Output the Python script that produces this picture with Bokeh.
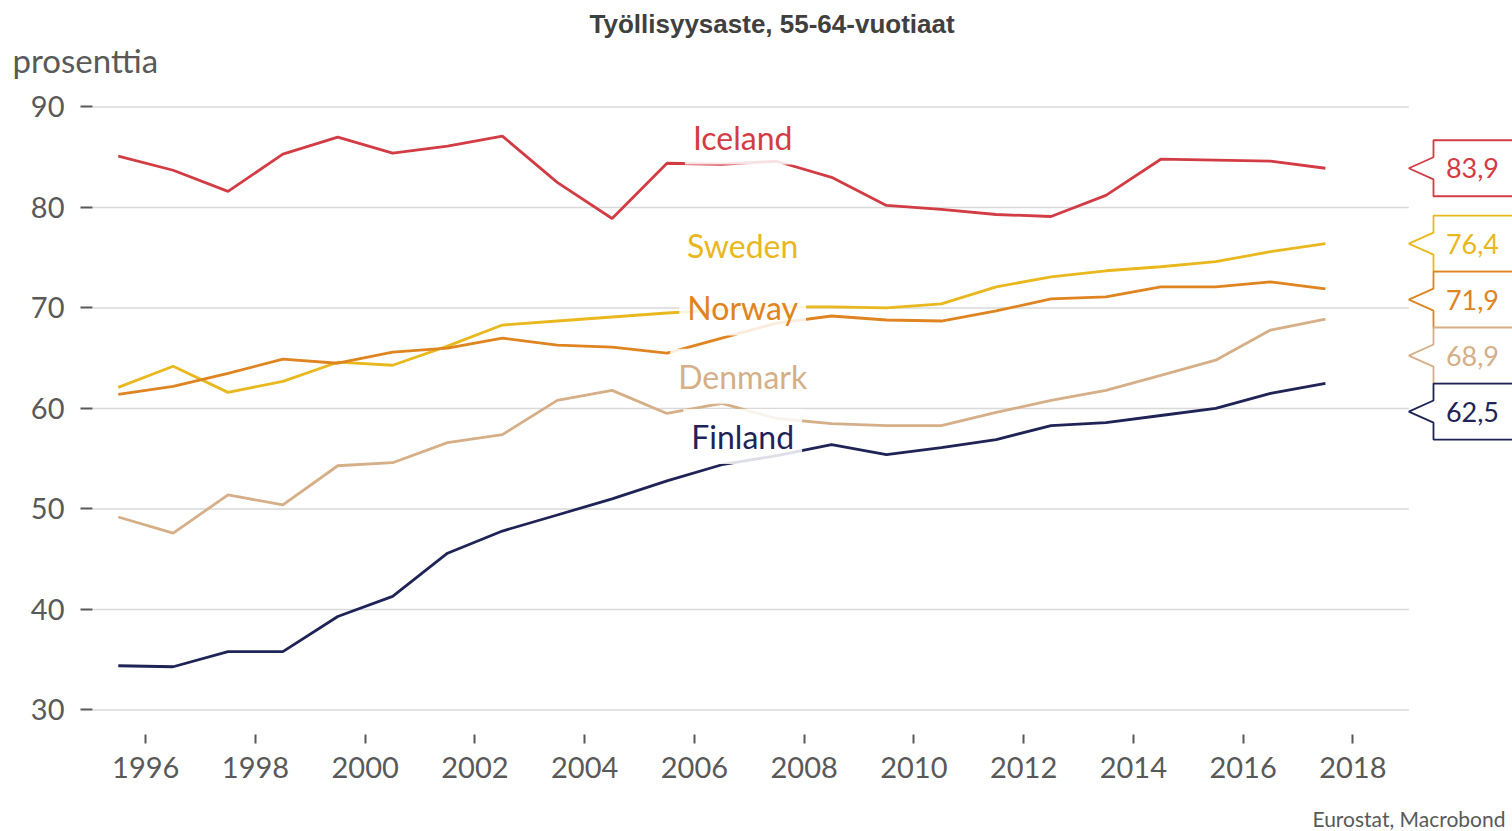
from bokeh.plotting import figure
from bokeh.layouts import column
from bokeh.models import Range1d, FixedTicker, Label, Title
from bokeh.core.properties import value
from bokeh.embed import file_html
from bokeh.resources import INLINE

# ---------------- data ----------------
years = list(range(1995, 2018))
iceland = [85.1, 83.7, 81.6, 85.3, 87.0, 85.4, 86.1, 87.1, 82.5, 78.9, 84.4, 84.3,
           84.6, 83.0, 80.2, 79.8, 79.3, 79.1, 81.2, 84.8, 84.7, 84.6, 83.9]
sweden = [62.1, 64.2, 61.6, 62.7, 64.6, 64.3, 66.2, 68.3, 68.7, 69.1, 69.5, 69.8,
          70.1, 70.1, 70.0, 70.4, 72.1, 73.1, 73.7, 74.1, 74.6, 75.6, 76.4]
norway = [61.4, 62.2, 63.5, 64.9, 64.5, 65.6, 66.0, 67.0, 66.3, 66.1, 65.5, 67.0,
          68.5, 69.2, 68.8, 68.7, 69.7, 70.9, 71.1, 72.1, 72.1, 72.6, 71.9]
denmark = [49.2, 47.6, 51.4, 50.4, 54.3, 54.6, 56.6, 57.4, 60.8, 61.8, 59.5, 60.5,
           59.0, 58.5, 58.3, 58.3, 59.6, 60.8, 61.8, 63.3, 64.8, 67.8, 68.9]
finland = [34.4, 34.3, 35.8, 35.8, 39.3, 41.3, 45.6, 47.8, 49.4, 51.0, 52.8, 54.4,
           55.3, 56.4, 55.4, 56.1, 56.9, 58.3, 58.6, 59.3, 60.0, 61.5, 62.5]

series_names = ["Iceland", "Sweden", "Norway", "Denmark", "Finland"]
series_values = [iceland, sweden, norway, denmark, finland]
series_colors = ["#d23c44", "#e8b81e", "#de8420", "#d5af88", "#1f2356"]
label_y = [87.0, 76.2, 70.0, 63.2, 57.2]   # position of the in-chart names

x_ticks = [1996, 1998, 2000, 2002, 2004, 2006, 2008, 2010, 2012, 2014, 2016, 2018]
y_ticks = [30, 40, 50, 60, 70, 80, 90]

title_text = "Työllisyysaste, 55-64-vuotiaat"
unit_text = "prosenttia"
source_text = "Eurostat, Macrobond"

GREY = "#595959"
FONT = "Lato"
W = 1512
FRAME_LEFT = 92
HEAD_H, FOOT_H = 84, 30
MAIN_H = 831 - HEAD_H - FOOT_H

X_START, GRID_END, X_END = 1995.03, 2019.02, 2020.91


def blank(h, top, bottom):
    f = figure(width=W, height=h, output_backend="svg", toolbar_location=None,
               x_range=Range1d(FRAME_LEFT, W), y_range=Range1d(0, h - top - bottom),
               x_axis_location=None, y_axis_location=None,
               min_border_left=FRAME_LEFT, min_border_right=0,
               min_border_top=top, min_border_bottom=bottom)
    f.grid.visible = False
    f.outline_line_color = None
    f.background_fill_color = "white"
    f.border_fill_color = "white"
    return f


# ---------------- header (title above a thin frame, unit below it) ----------------
head = blank(HEAD_H, 38, HEAD_H - 39)
head.add_layout(Title(text=title_text, align="left", offset=497, standoff=0,
                      vertical_align="bottom", text_font="Liberation Sans",
                      text_font_style="bold", text_font_size="26px",
                      text_color="#404040"), "above")
head.add_layout(Title(text=unit_text, align="left", offset=-80, standoff=0,
                      vertical_align="top", text_font=FONT,
                      text_font_style="normal", text_font_size="33px",
                      text_color=GREY), "below")

# ---------------- main chart ----------------
p = figure(width=W, height=MAIN_H, output_backend="svg", toolbar_location=None,
           x_range=Range1d(X_START, X_END), y_range=Range1d(27.16, 91.04),
           min_border_left=FRAME_LEFT, min_border_right=0, min_border_top=12,
           min_border_bottom=MAIN_H - 12 - 642)
p.outline_line_color = None
p.background_fill_color = "white"
p.border_fill_color = "white"
p.xgrid.visible = False
p.ygrid.visible = False

p.xaxis.ticker = FixedTicker(ticks=x_ticks)
p.yaxis.ticker = FixedTicker(ticks=y_ticks)
for ax in (p.xaxis[0], p.yaxis[0]):
    ax.axis_line_color = None
    ax.major_tick_line_color = GREY
    ax.major_tick_line_width = 2
    ax.minor_tick_line_color = None
    ax.major_label_text_font = FONT
    ax.major_label_text_font_size = "29px"
    ax.major_label_text_color = GREY
p.xaxis.major_tick_in = 4
p.xaxis.major_tick_out = 5
p.xaxis.major_label_standoff = 13
p.yaxis.major_tick_in = 0
p.yaxis.major_tick_out = 12
p.yaxis.major_label_standoff = 16

# horizontal grid lines (stop before the callout column)
p.segment(x0=[X_START] * len(y_ticks), y0=y_ticks,
          x1=[GRID_END] * len(y_ticks), y1=y_ticks,
          line_color="#d9d9d9", line_width=1.5)

# mid-year positions
xs = [y + 0.5 for y in years]
for name, vals, col in zip(series_names, series_values, series_colors):
    p.line(xs, vals, line_color=col, line_width=2.8)

# in-chart series names with white halo
for name, ly, col in zip(series_names, label_y, series_colors):
    p.add_layout(Label(x=2006.88, y=ly, text=name, text_align="center",
                       text_baseline="middle", text_font=FONT,
                       text_font_size="32px", text_color=col,
                       background_fill_color="white", background_fill_alpha=0.85,
                       padding=8))

# right-hand value callouts (stacked to avoid overlap)
gap = 5.57
nh = 1.1
x_tip, x_left, x_right, x_text = 2019.02, 2019.47, 2021.3, 2020.18
order = sorted(range(len(series_names)), key=lambda i: -series_values[i][-1])
prev = None
pxs, pys, pcols, tx, ty, tt = [], [], [], [], [], []
for i in order:
    v = series_values[i][-1]
    c = v if prev is None else min(v, prev - gap)
    prev = c
    top, bot = c + gap / 2, c - gap / 2
    pxs.append([x_left, x_right, x_right, x_left, x_left, x_tip, x_left])
    pys.append([top, top, bot, bot, c - nh, c, c + nh])
    pcols.append(series_colors[i])
    tx.append(x_text)
    ty.append(c)
    tt.append(f"{v:.1f}".replace(".", ","))
p.patches(xs=pxs, ys=pys, fill_color="white", line_color=pcols, line_width=1.8)
p.text(x=tx, y=ty, text=tt, text_color=pcols, text_font=value(FONT),
       text_font_size=value("27px"), text_align="center", text_baseline="middle")

# ---------------- footer (source) ----------------
foot = blank(FOOT_H, 0, 0)
foot.text(x=[W - 7], y=[FOOT_H - 17], text=[source_text], text_align="right",
          text_baseline="middle", text_font=value(FONT),
          text_font_size=value("21px"), text_color=GREY)

layout = column(head, p, foot, spacing=0)
open("out.html", "w").write(file_html(layout, INLINE))
